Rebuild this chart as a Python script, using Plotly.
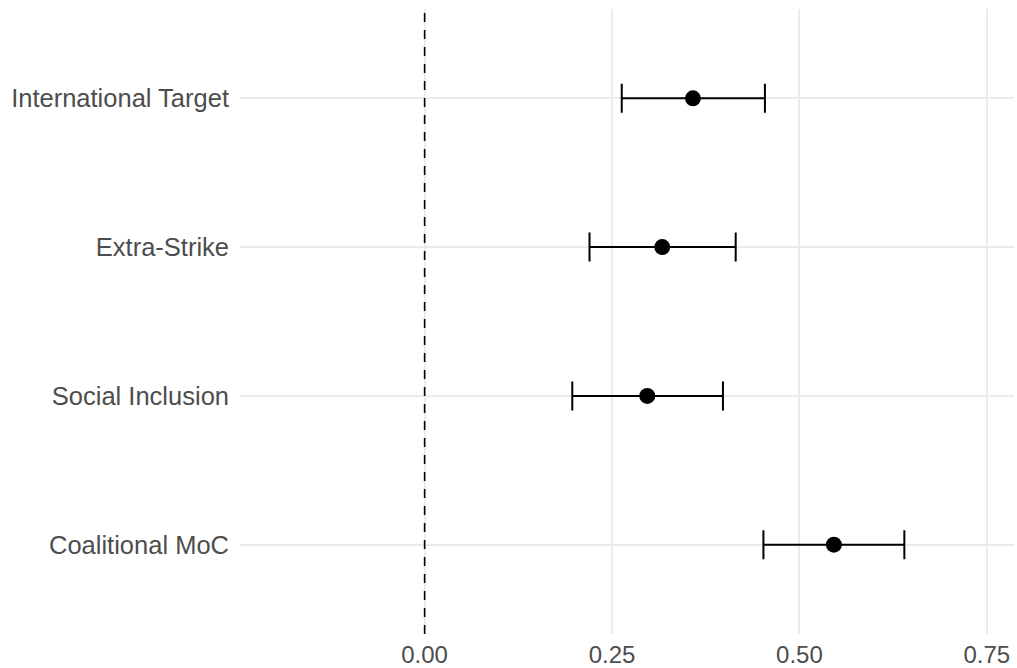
import plotly.graph_objects as go

categories = ["Coalitional MoC", "Social Inclusion", "Extra-Strike", "International Target"]
estimates = [0.546, 0.297, 0.317, 0.358]
lower = [0.452, 0.197, 0.220, 0.263]
upper = [0.640, 0.398, 0.415, 0.454]
x_ticks = [0.0, 0.25, 0.5, 0.75]
x_tick_labels = ["0.00", "0.25", "0.50", "0.75"]

err_plus = [u - e for u, e in zip(upper, estimates)]
err_minus = [e - l for e, l in zip(estimates, lower)]

fig = go.Figure()
fig.add_trace(go.Scatter(
    x=estimates, y=categories, mode="markers",
    marker=dict(color="black", size=16),
    error_x=dict(type="data", symmetric=False, array=err_plus, arrayminus=err_minus,
                 color="black", thickness=2, width=14.5),
    showlegend=False,
))

fig.add_shape(type="line", xref="x", yref="paper", x0=0, x1=0, y0=0, y1=1,
              line=dict(color="black", width=1.6, dash="9px,8px"))

fig.update_layout(
    width=1017, height=668,
    margin=dict(l=240, r=3, t=9, b=34),
    paper_bgcolor="white", plot_bgcolor="white",
    font=dict(family="Liberation Sans, Arial, sans-serif", size=24, color="#4D4D4D"),
)
fig.update_xaxes(
    range=[-0.2463, 0.7863], tickvals=x_ticks, ticktext=x_tick_labels,
    showgrid=True, gridcolor="#EBEBEB", gridwidth=2, zeroline=False,
    showline=False, ticks="", ticklabelstandoff=4, tickfont=dict(size=24),
    automargin=False,
)
fig.update_yaxes(
    type="category", categoryorder="array", categoryarray=categories,
    range=[-0.6, 3.6], showgrid=True, gridcolor="#EBEBEB", gridwidth=2,
    zeroline=False, showline=False, ticks="", ticklabelstandoff=10,
    tickfont=dict(size=25.5), automargin=False,
)

fig.write_html("out.html", config={"displayModeBar": False},
               post_script="document.body.style.margin='0';document.body.style.padding='0';")
